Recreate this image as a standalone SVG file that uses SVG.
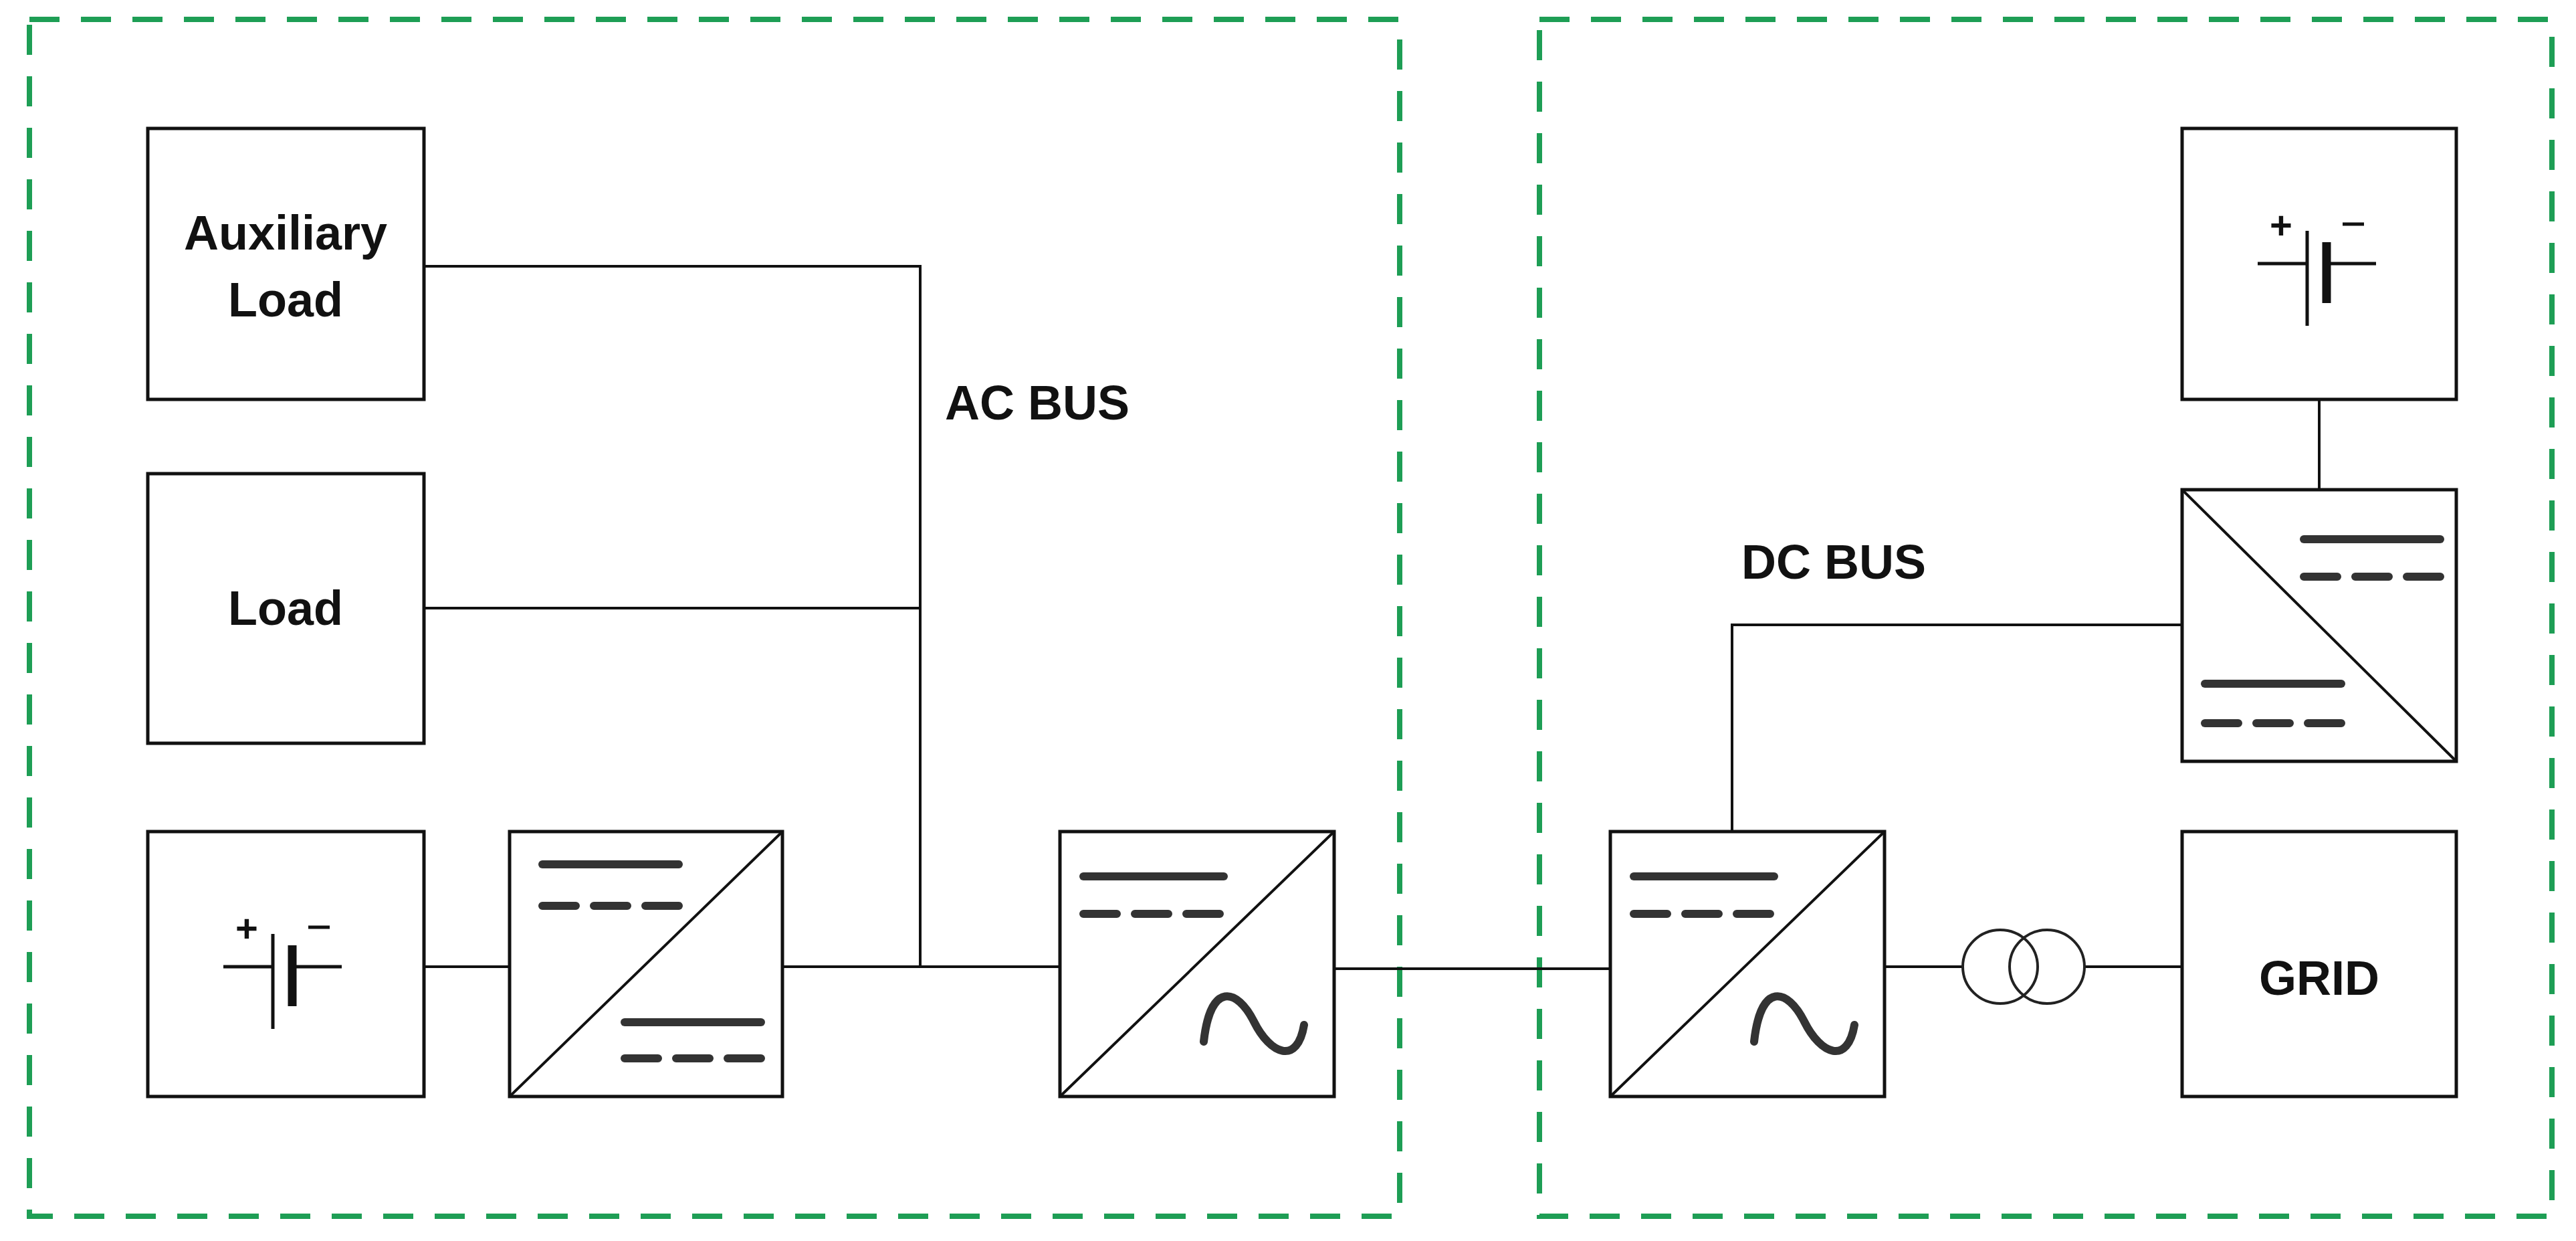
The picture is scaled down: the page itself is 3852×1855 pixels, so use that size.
<svg xmlns="http://www.w3.org/2000/svg" width="3852" height="1855" viewBox="0 0 3852 1855">
<style>
.zone{fill:none;stroke:#1e9e55;stroke-width:8;stroke-dasharray:45 32}
.box{fill:#fff;stroke:#111;stroke-width:5}
.w{fill:none;stroke:#111;stroke-width:4}
.ic{fill:none;stroke:#333;stroke-width:12;stroke-linecap:round}
.icd{fill:none;stroke:#333;stroke-width:12;stroke-linecap:round;stroke-dasharray:50 27}
.t{font-family:"Liberation Sans",Arial,sans-serif;font-weight:bold;font-size:72px;fill:#111;text-anchor:middle}
</style>
<defs>
<g id="bat">
<line x1="113" y1="202" x2="187" y2="202" stroke="#111" stroke-width="5"/>
<line x1="216" y1="202" x2="290" y2="202" stroke="#111" stroke-width="5"/>
<line x1="187" y1="153" x2="187" y2="295" stroke="#111" stroke-width="5"/>
<line x1="216" y1="170" x2="216" y2="261" stroke="#111" stroke-width="13"/>
<text x="148" y="165" class="t" style="font-size:58px">+</text>
<line x1="240" y1="143" x2="272" y2="143" stroke="#111" stroke-width="5"/>
</g>
<path id="sine" d="M0,60 C10,-30 50,-20 75,30 C100,80 140,95 150,35" fill="none" stroke="#333" stroke-width="12" stroke-linecap="round"/>
</defs>
<rect class="zone" x="44" y="29" width="2049" height="1789"/>
<rect class="zone" x="2302" y="29" width="1514" height="1789"/>
<g id="connectors">
<polyline class="w" points="634,398 1376,398 1376,1445"/>
<line class="w" x1="634" y1="909" x2="1376" y2="909"/>
<line class="w" x1="634" y1="1445" x2="762" y2="1445"/>
<line class="w" x1="1170" y1="1445" x2="1585" y2="1445"/>
<line class="w" x1="1995" y1="1448" x2="2408" y2="1448"/>
<polyline class="w" points="2590,1243 2590,934 3263,934"/>
<line class="w" x1="3468" y1="597" x2="3468" y2="732"/>
<line class="w" x1="2818" y1="1445" x2="2935" y2="1445"/>
<line class="w" x1="3117" y1="1445" x2="3263" y2="1445"/>
</g>
<g id="aux"><rect class="box" x="221" y="192" width="413" height="405"/><text class="t" x="427" y="373">Auxiliary</text><text class="t" x="427" y="473">Load</text></g>
<g id="load"><rect class="box" x="221" y="708" width="413" height="403"/><text class="t" x="427" y="934">Load</text></g>
<g id="battery1"><rect class="box" x="221" y="1243" width="413" height="396"/><use href="#bat" x="221" y="1243"/></g>
<g id="dcdc1"><rect class="box" x="762" y="1243" width="408" height="396"/><line class="w" x1="762" y1="1639" x2="1170" y2="1243"/>
<line class="ic" x1="811" y1="1292" x2="1015" y2="1292"/><line class="icd" x1="811" y1="1354" x2="1015" y2="1354"/>
<line class="ic" x1="934" y1="1528" x2="1138" y2="1528"/><line class="icd" x1="934" y1="1582" x2="1138" y2="1582"/></g>
<g id="dcac1"><rect class="box" x="1585" y="1243" width="410" height="396"/><line class="w" x1="1585" y1="1639" x2="1995" y2="1243"/>
<line class="ic" x1="1620" y1="1310" x2="1830" y2="1310"/><line class="icd" x1="1620" y1="1366" x2="1830" y2="1366"/>
<use href="#sine" x="1800" y="1497"/></g>
<text class="t" x="1413" y="627" style="text-anchor:start">AC BUS</text>
<g id="dcac2"><rect class="box" x="2408" y="1243" width="410" height="396"/><line class="w" x1="2408" y1="1639" x2="2818" y2="1243"/>
<line class="ic" x1="2443" y1="1310" x2="2653" y2="1310"/><line class="icd" x1="2443" y1="1366" x2="2653" y2="1366"/>
<use href="#sine" x="2623" y="1497"/></g>
<text class="t" x="2604" y="865" style="text-anchor:start">DC BUS</text>
<g id="battery2"><rect class="box" x="3263" y="192" width="410" height="405"/><use href="#bat" x="3263" y="192"/></g>
<g id="dcdc2"><rect class="box" x="3263" y="732" width="410" height="406"/><line class="w" x1="3263" y1="732" x2="3673" y2="1138"/>
<line class="ic" x1="3445" y1="806" x2="3649" y2="806"/><line class="icd" x1="3445" y1="862" x2="3649" y2="862"/>
<line class="ic" x1="3297" y1="1022" x2="3501" y2="1022"/><line class="icd" x1="3297" y1="1081" x2="3501" y2="1081"/></g>
<g id="transformer"><ellipse cx="2991" cy="1445" rx="56" ry="55" fill="none" stroke="#222" stroke-width="4"/><ellipse cx="3061" cy="1445" rx="56" ry="55" fill="none" stroke="#222" stroke-width="4"/></g>
<g id="grid"><rect class="box" x="3263" y="1243" width="410" height="396"/><text class="t" x="3468" y="1487">GRID</text></g>
</svg>
